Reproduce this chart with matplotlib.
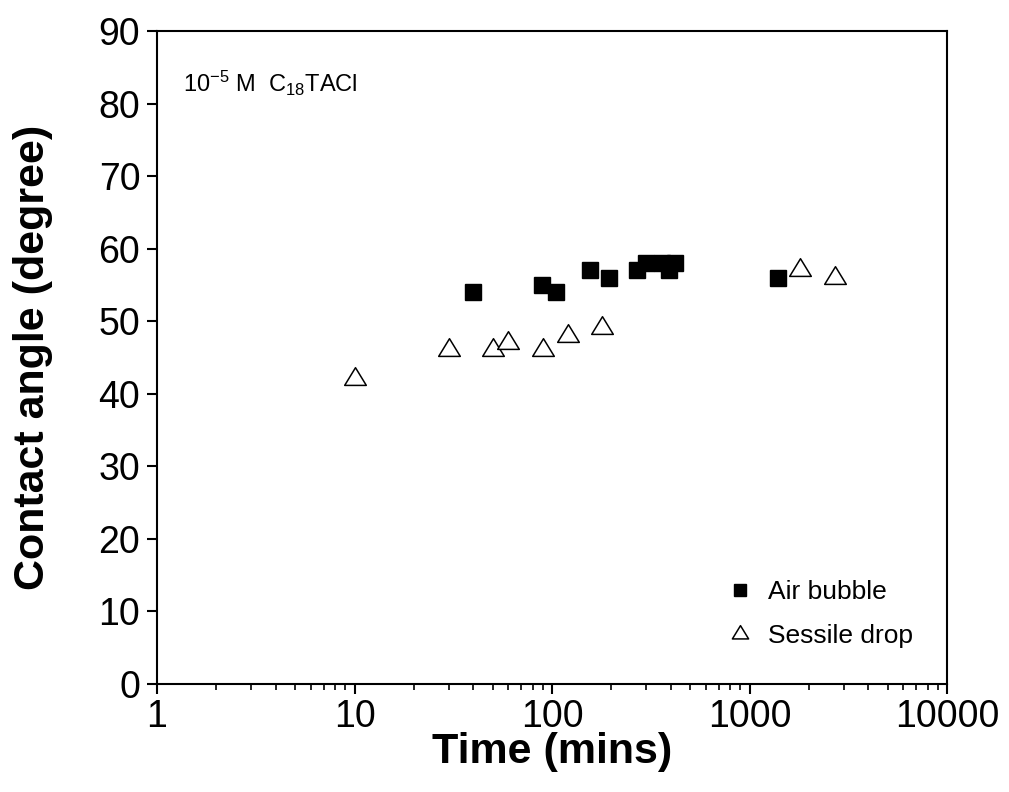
import matplotlib
matplotlib.use("Agg")
import matplotlib.pyplot as plt
from matplotlib.path import Path

plt.rcParams['font.family'] = ['Liberation Sans', 'DejaVu Sans']
plt.rcParams['mathtext.default'] = 'regular'

# Data
air_time = [40, 89, 105, 155, 195, 270, 300, 360, 390, 420, 1400]
air_angle = [54, 55, 54, 57, 56, 57, 58, 58, 57, 58, 56]
drop_time = [10, 30, 50, 60, 90, 120, 180, 1800, 2700]
drop_angle = [42, 46, 46, 47, 46, 48, 49, 57, 56]
x_ticks = [1, 10, 100, 1000, 10000]
x_ticklabels = ['1', '10', '100', '1000', '10000']
y_ticks = list(range(0, 91, 10))

fig = plt.figure(figsize=(10.09, 7.92), dpi=100)
ax = fig.add_axes([0.1556, 0.1364, 0.9386 - 0.1556, 0.9609 - 0.1364])

tri = Path([(0, 12), (-11, -6), (11, -6), (0, 12)],
           [Path.MOVETO, Path.LINETO, Path.LINETO, Path.CLOSEPOLY])

ax.plot(air_time, air_angle, linestyle='none', marker='s', markersize=11,
        markerfacecolor='black', markeredgecolor='black', markeredgewidth=1,
        label='Air bubble', zorder=3)
ax.plot(drop_time, drop_angle, linestyle='none', marker=tri, markersize=17,
        markerfacecolor='white', markeredgecolor='black', markeredgewidth=1.1,
        label='Sessile drop', zorder=3)

ax.set_xscale('log')
ax.set_xlim(1, 10000)
ax.set_ylim(0, 90)
ax.set_xticks(x_ticks)
ax.set_xticklabels(x_ticklabels)
ax.set_yticks(y_ticks)
ax.yaxis.set_minor_locator(matplotlib.ticker.NullLocator())

for s in ax.spines.values():
    s.set_linewidth(1.5)

ax.tick_params(axis='both', which='major', direction='out', length=7, width=1.5,
               labelsize=27, top=False, right=False)
ax.tick_params(axis='x', which='minor', direction='out', length=4, width=1.2,
               top=False)
ax.tick_params(axis='x', which='major', pad=4)
ax.tick_params(axis='y', which='major', pad=5)

ax.set_xlabel('Time (mins)', fontsize=31, fontweight='bold')
ax.xaxis.set_label_coords(0.5, -0.074)
ax.set_ylabel('Contact angle (degree)', fontsize=31, fontweight='bold')
ax.yaxis.set_label_coords(-0.132, 0.5)

ax.text(0.033, 0.906, r'$10^{-5}$ M  C$_{18}$TACl', transform=ax.transAxes,
        fontsize=17, ha='left', va='baseline')

leg = ax.legend(loc='lower right', bbox_to_anchor=(0.97, 0.039), frameon=False,
                fontsize=19, handlelength=0.9, handletextpad=0.6,
                labelspacing=0.75, borderaxespad=0.0, markerscale=0.75)

fig.savefig('out.png', dpi=100)
